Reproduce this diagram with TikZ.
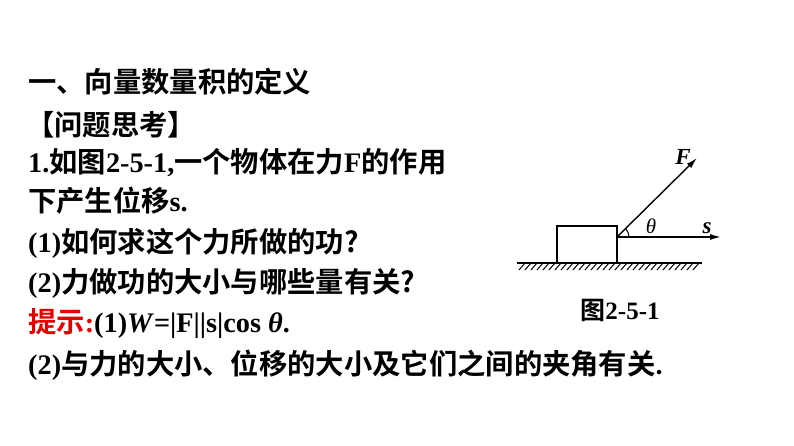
\documentclass[tikz,border=0pt]{standalone}
\usepackage{fontspec}
\usetikzlibrary{arrows.meta}
\setmainfont{Liberation Serif}[BoldFont={Liberation Serif Bold}]
\newfontfamily\cjk{Noto Sans CJK SC}[BoldFont={Noto Sans CJK SC Bold}]
\newcommand{\zh}[1]{{\cjk\bfseries #1}}
\definecolor{hint}{RGB}{230,0,0}
\begin{document}
\begin{tikzpicture}[x=1pt,y=-1pt,
  txt/.style={anchor=west,inner sep=0pt,font=\fontsize{28.3}{28.3}\selectfont\bfseries},
  vec/.style={line width=1.4pt,-{Latex[length=11pt,width=6pt]}}]
\useasboundingbox (0,0) rectangle (794,446);
\node[txt] (l1) at (28,82) {\zh{一、向量数量积的定义}};
\node[txt] (l2) at (26,125) {\zh{【问题思考】}};
\node[txt] (l3) at (28,163) {1.\zh{如图}2-5-1,\zh{一个物体在力}F\zh{的作用}};
\node[txt] (l4) at (28,201) {\zh{下产生位移}s.};
\node[txt] (l5) at (28,243) {(1)\zh{如何求这个力所做的功?}};
\node[txt] (l6) at (28,283) {(2)\zh{力做功的大小与哪些量有关?}};
\node[txt] (l7) at (28,324) {\textcolor{hint}{\zh{提示}:}(1)\textit{W}=|F||s|cos \textit{θ}.};
\node[txt] (l8) at (28,365) {(2)\zh{与力的大小、位移的大小及它们之间的夹角有关}.};
% figure
\draw[line width=1.4pt] (517,263) -- (702,263);
\foreach \i in {0,...,29} \draw[line width=1pt] (519+6*\i,270) -- (525+6*\i,263);
\draw[line width=1.4pt] (557,263) rectangle (617,226);
\coordinate (o) at (617,237);
\coordinate (fe) at (697,158);
\coordinate (se) at (721,237);
\draw[vec] (o) -- (fe);
\draw[vec] (o) -- (se);
\draw[line width=1pt] (o) ++(12,0) arc[start angle=0,end angle=-44.6,radius=12];
\node[font=\fontsize{21}{21}\selectfont\itshape] (th) at (651,226) {θ};
\node[font=\fontsize{23}{23}\selectfont\bfseries\itshape] (F) at (683,157) {F};
\node[font=\fontsize{23}{23}\selectfont\bfseries\itshape] (s) at (707,228) {s};
\node[font=\fontsize{25}{25}\selectfont\bfseries] (cap) at (620,310) {\zh{图}2-5-1};
\end{tikzpicture}
\end{document}
